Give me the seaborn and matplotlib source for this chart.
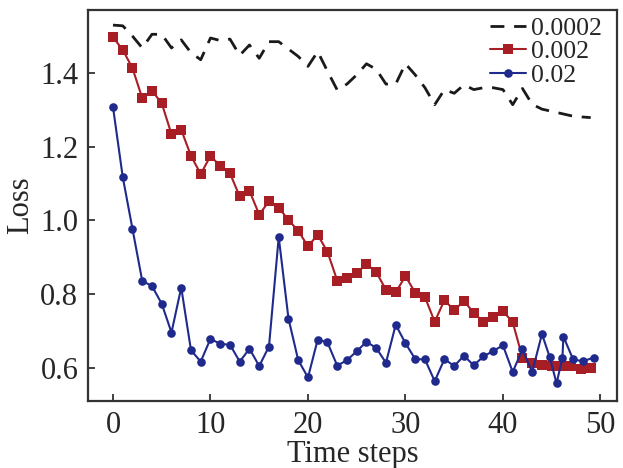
import numpy as np
import pandas as pd
import matplotlib
matplotlib.use("Agg")
import matplotlib.pyplot as plt
import seaborn as sns

# learning rate 0.0002 (dashed, no markers)
steps_a = list(range(50))
loss_a = [1.530, 1.528, 1.500, 1.468, 1.505, 1.505, 1.468, 1.490, 1.455, 1.436,
          1.495, 1.488, 1.492, 1.448, 1.476, 1.440, 1.485, 1.485, 1.465, 1.445,
          1.418, 1.458, 1.405, 1.354, 1.370, 1.395, 1.425, 1.410, 1.370, 1.370,
          1.425, 1.395, 1.360, 1.314, 1.355, 1.345, 1.368, 1.355, 1.360, 1.360,
          1.355, 1.314, 1.358, 1.315, 1.302, 1.296, 1.290, 1.284, 1.281, 1.279]

# learning rate 0.002 (squares)
steps_b = list(range(50))
loss_b = [1.497, 1.463, 1.413, 1.332, 1.352, 1.318, 1.234, 1.246, 1.175, 1.126,
          1.175, 1.148, 1.128, 1.065, 1.080, 1.016, 1.052, 1.035, 1.001, 0.972,
          0.930, 0.961, 0.915, 0.837, 0.843, 0.857, 0.882, 0.860, 0.812, 0.805,
          0.849, 0.804, 0.792, 0.725, 0.784, 0.756, 0.782, 0.749, 0.725, 0.739,
          0.754, 0.724, 0.628, 0.613, 0.608, 0.605, 0.605, 0.604, 0.596, 0.599]

# learning rate 0.02 (circles)
steps_c = list(range(45)) + [44.8, 45.5, 46.1, 46.2, 47.2, 48.2, 49.3]
loss_c = [1.308, 1.118, 0.977, 0.836, 0.822, 0.774, 0.696, 0.818, 0.648, 0.617,
          0.679, 0.665, 0.663, 0.617, 0.652, 0.605, 0.658, 0.955, 0.734, 0.621,
          0.574, 0.677, 0.669, 0.606, 0.621, 0.645, 0.671, 0.654, 0.614, 0.717,
          0.667, 0.624, 0.623, 0.564, 0.624, 0.605, 0.633, 0.607, 0.631, 0.646,
          0.661, 0.589, 0.650, 0.589, 0.692,
          0.629, 0.558, 0.628, 0.685, 0.623, 0.618, 0.628]

sns.set_style("ticks")
plt.rcParams['font.family'] = ['Liberation Serif', 'DejaVu Serif']

fig = plt.figure(figsize=(6.23, 4.68), dpi=100)
ax = fig.add_axes([0.1413, 0.143, 0.8491, 0.8357])

df_a = pd.DataFrame({"step": steps_a, "loss": loss_a})
df_b = pd.DataFrame({"step": steps_b, "loss": loss_b})
df_c = pd.DataFrame({"step": steps_c, "loss": loss_c})

sns.lineplot(data=df_a, x="step", y="loss", ax=ax, color="#1a1a1a",
             linewidth=2.0, label="0.0002")
ax.lines[-1].set_dashes([5, 3.5])
sns.lineplot(data=df_b, x="step", y="loss", ax=ax, color="#a81e25",
             linewidth=1.5, marker="s", markersize=7.8, markeredgewidth=0,
             label="0.002")
sns.lineplot(data=df_c, x="step", y="loss", ax=ax, color="#1f2a8c",
             linewidth=1.5, marker="o", markersize=6.2, markeredgewidth=0,
             label="0.02")

ax.set_xlim(-2.56, 51.7)
ax.set_ylim(0.51, 1.571)
ax.set_xticks([0, 10, 20, 30, 40, 50])
ax.set_yticks([0.6, 0.8, 1.0, 1.2, 1.4])
ax.set_yticklabels(["0.6", "0.8", "1.0", "1.2", "1.4"])
ax.set_xlabel("Time steps", fontsize=22, labelpad=0)
ax.set_ylabel("Loss", fontsize=22, labelpad=4)
ax.tick_params(direction="in", length=5, width=1.3, labelsize=22,
               color="#333333", pad=7)
for sp in ax.spines.values():
    sp.set_color("#333333")
    sp.set_linewidth(1.6)

ax.legend(loc="upper right", bbox_to_anchor=(1.0, 1.022), frameon=False,
          fontsize=18.5, handlelength=1.4, handletextpad=0.2,
          labelspacing=0.02, borderaxespad=0.4, borderpad=0.2)

fig.savefig("out.png", dpi=100)
